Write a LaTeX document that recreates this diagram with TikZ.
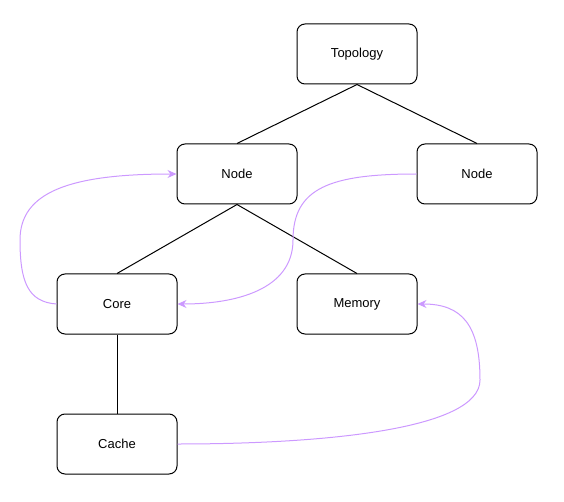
\documentclass[tikz,border=0pt]{standalone}
\usepackage{fontspec}
\setmainfont{Liberation Sans}
\usetikzlibrary{arrows.meta}
\definecolor{lilas}{RGB}{204,153,255}
\tikzset{
  boite/.style={draw, rounded corners=8pt, minimum width=120pt, minimum height=60pt, inner sep=0pt, font=\fontsize{13}{15}\selectfont},
  lien/.style={draw=lilas, line width=1pt, -{Stealth[length=9pt,width=8pt]}}
}
\begin{document}
\begin{tikzpicture}[x=1pt,y=-1pt,line width=1pt]

\useasboundingbox (0,0) rectangle (564,502) ;

% boîtes

\node[boite] (topo) at (357,54) {Topology} ;
\node[boite] (noeudg) at (237,174) {Node} ;
\node[boite] (noeudd) at (477,174) {Node} ;
\node[boite] (coeur) at (117,304) {Core} ;
\node[boite] (memoire) at (357,304) {Memory} ;
\node[boite] (cache) at (117,444) {Cache} ;

% arbre

\draw (topo.south) -- (noeudg.north) ;
\draw (topo.south) -- (noeudd.north) ;
\draw (noeudg.south) -- (coeur.north) ;
\draw (noeudg.south) -- (memoire.north) ;
\draw (coeur.south) -- (cache.north) ;

% liens courbes

\draw[lien] (coeur.west) .. controls (28,302) and (20,282) .. (20,240) .. controls (20,192) and (70,174) .. (noeudg.west) ;
\draw[lien] (noeudd.west) .. controls (330,174) and (293,188) .. (293,240) .. controls (293,290) and (235,304) .. (coeur.east) ;
\draw[lien] (cache.east) .. controls (320,444) and (480,430) .. (480,380) .. controls (480,325) and (462,304) .. (memoire.east) ;

\end{tikzpicture}
\end{document}
